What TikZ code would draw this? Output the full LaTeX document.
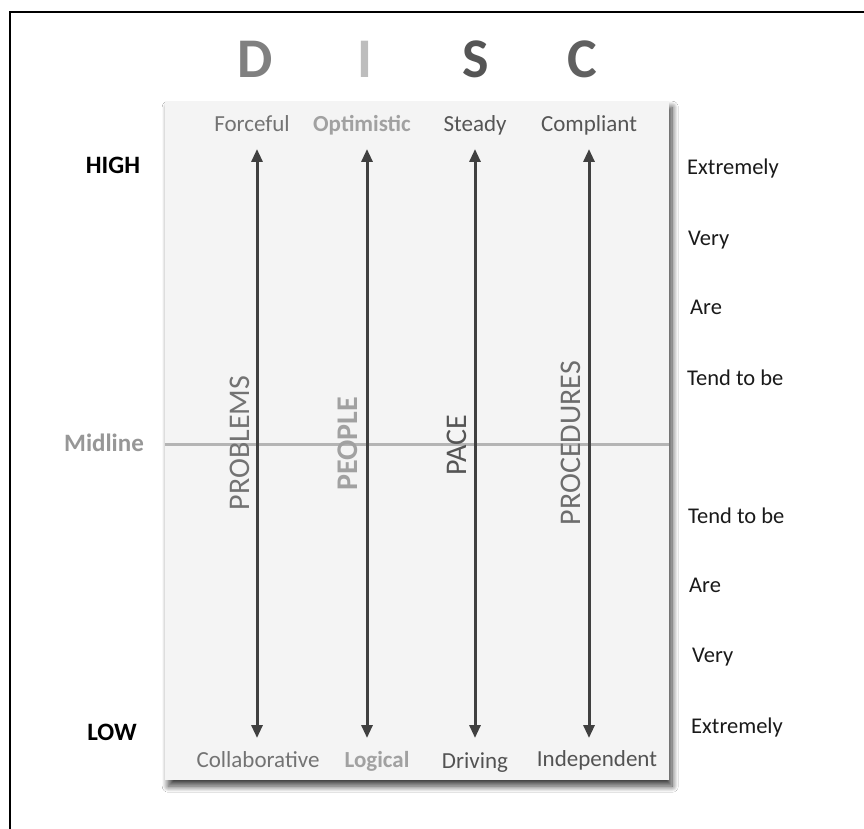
\documentclass[tikz,border=0pt]{standalone}
\usepackage{fontspec}
\setmainfont{Carlito}
\usetikzlibrary{arrows.meta,shadows.blur}

\definecolor{panelfill}{HTML}{F4F4F4}
\definecolor{arrowgray}{HTML}{404040}
\definecolor{dcol}{HTML}{808080}
\definecolor{icol}{HTML}{BDBDBD}
\definecolor{scol}{HTML}{555555}
\definecolor{ccol}{HTML}{606060}
\definecolor{midgray}{HTML}{B4B4B4}
\definecolor{textdark}{HTML}{1A1A1A}

\begin{document}
\begin{tikzpicture}[x=1pt,y=-1pt,
  letter/.style={font=\fontsize{56}{60}\selectfont\bfseries, anchor=base, inner sep=0pt},
  trait/.style={font=\fontsize{23}{26}\selectfont, anchor=base, inner sep=0pt},
  traitbold/.style={trait, font=\fontsize{23}{26}\selectfont\bfseries},
  axis/.style={font=\fontsize{30}{34}\selectfont, rotate=90, inner sep=0pt},
  axisbold/.style={axis, font=\fontsize{30}{34}\selectfont\bfseries},
  level/.style={font=\fontsize{25}{28}\selectfont\bfseries, anchor=base, inner sep=0pt},
  degree/.style={font=\fontsize{22.5}{26}\selectfont, text=textdark, anchor=base west, inner sep=0pt},
  scale arrow/.style={draw=arrowgray, line width=3pt,
    {Triangle[length=13pt,width=11pt]}-{Triangle[length=13pt,width=11pt]}},
  panel/.style={fill=panelfill, draw=none,
    blur shadow={shadow xshift=3pt, shadow yshift=-6pt, shadow blur radius=6pt,
      shadow blur steps=12, shadow opacity=75}}
]
\useasboundingbox (0,0) rectangle (864,829);
\fill[white] (0,0) rectangle (864,829);

% frame lines
\draw[line width=2pt, black] (864,12) -- (10,12) -- (10,829);

% central panel
\node[panel, minimum width=504pt, minimum height=679pt, inner sep=0pt, anchor=north west] (panel) at (165,101) {};

% midline
\coordinate (mid-l) at (165,444);
\coordinate (mid-r) at (669,444);
\draw[midgray, line width=3pt] (mid-l) -- (mid-r);

% DISC heading letters
\node[letter, text=dcol] (letD) at (255,78) {D};
\node[letter, text=icol] (letI) at (365,78) {I};
\node[letter, text=scol] (letS) at (476,78) {S};
\node[letter, text=ccol] (letC) at (582,78) {C};

% trait words at the high end
\node[trait, text=dcol!90!black] (forceful) at (252,132) {Forceful};
\node[traitbold, text=icol!85!black] (optimistic) at (362,132) {Optimistic};
\node[trait, text=scol] (steady) at (475,132) {Steady};
\node[trait, text=scol] (compliant) at (589,132) {Compliant};

% trait words at the low end
\node[trait, text=dcol!90!black] (collab) at (258,767) {Collaborative};
\node[traitbold, text=icol!85!black] (logical) at (377,767) {Logical};
\node[trait, text=arrowgray!90!white] (driving) at (475,768) {Driving};
\node[trait, text=arrowgray!90!white] (independent) at (597,766) {Independent};

% double-headed scales
\coordinate (d-top) at (257,149); \coordinate (d-bot) at (257,738);
\coordinate (i-top) at (367,149); \coordinate (i-bot) at (367,738);
\coordinate (s-top) at (475,149); \coordinate (s-bot) at (475,738);
\coordinate (c-top) at (589,149); \coordinate (c-bot) at (589,738);
\draw[scale arrow] (d-top) -- (d-bot);
\draw[scale arrow] (i-top) -- (i-bot);
\draw[scale arrow] (s-top) -- (s-bot);
\draw[scale arrow] (c-top) -- (c-bot);

% axis captions
\node[axis, text=dcol!90!black] (problems) at (240,443) {PROBLEMS};
\node[axisbold, text=icol!85!black] (people) at (348,444) {PEOPLE};
\node[axis, text=scol] (pace) at (457,445) {PACE};
\node[axis, text=dcol!85!black] (procedures) at (571,443) {PROCEDURES};

% level labels on the left
\node[level, text=black] (high) at (113,174) {HIGH};
\node[level, text=icol!80!black] (midline) at (104,451) {Midline};
\node[level, text=black] (low) at (112,740) {LOW};

% degree labels on the right
\node[degree] (ext-hi) at (687,175) {Extremely};
\node[degree] (very-hi) at (688,245) {Very};
\node[degree] (are-hi) at (690,314) {Are};
\node[degree] (tend-hi) at (687,385) {Tend to be};
\node[degree] (tend-lo) at (688,523) {Tend to be};
\node[degree] (are-lo) at (689,592) {Are};
\node[degree] (very-lo) at (692,662) {Very};
\node[degree] (ext-lo) at (691,733) {Extremely};
\end{tikzpicture}
\end{document}
